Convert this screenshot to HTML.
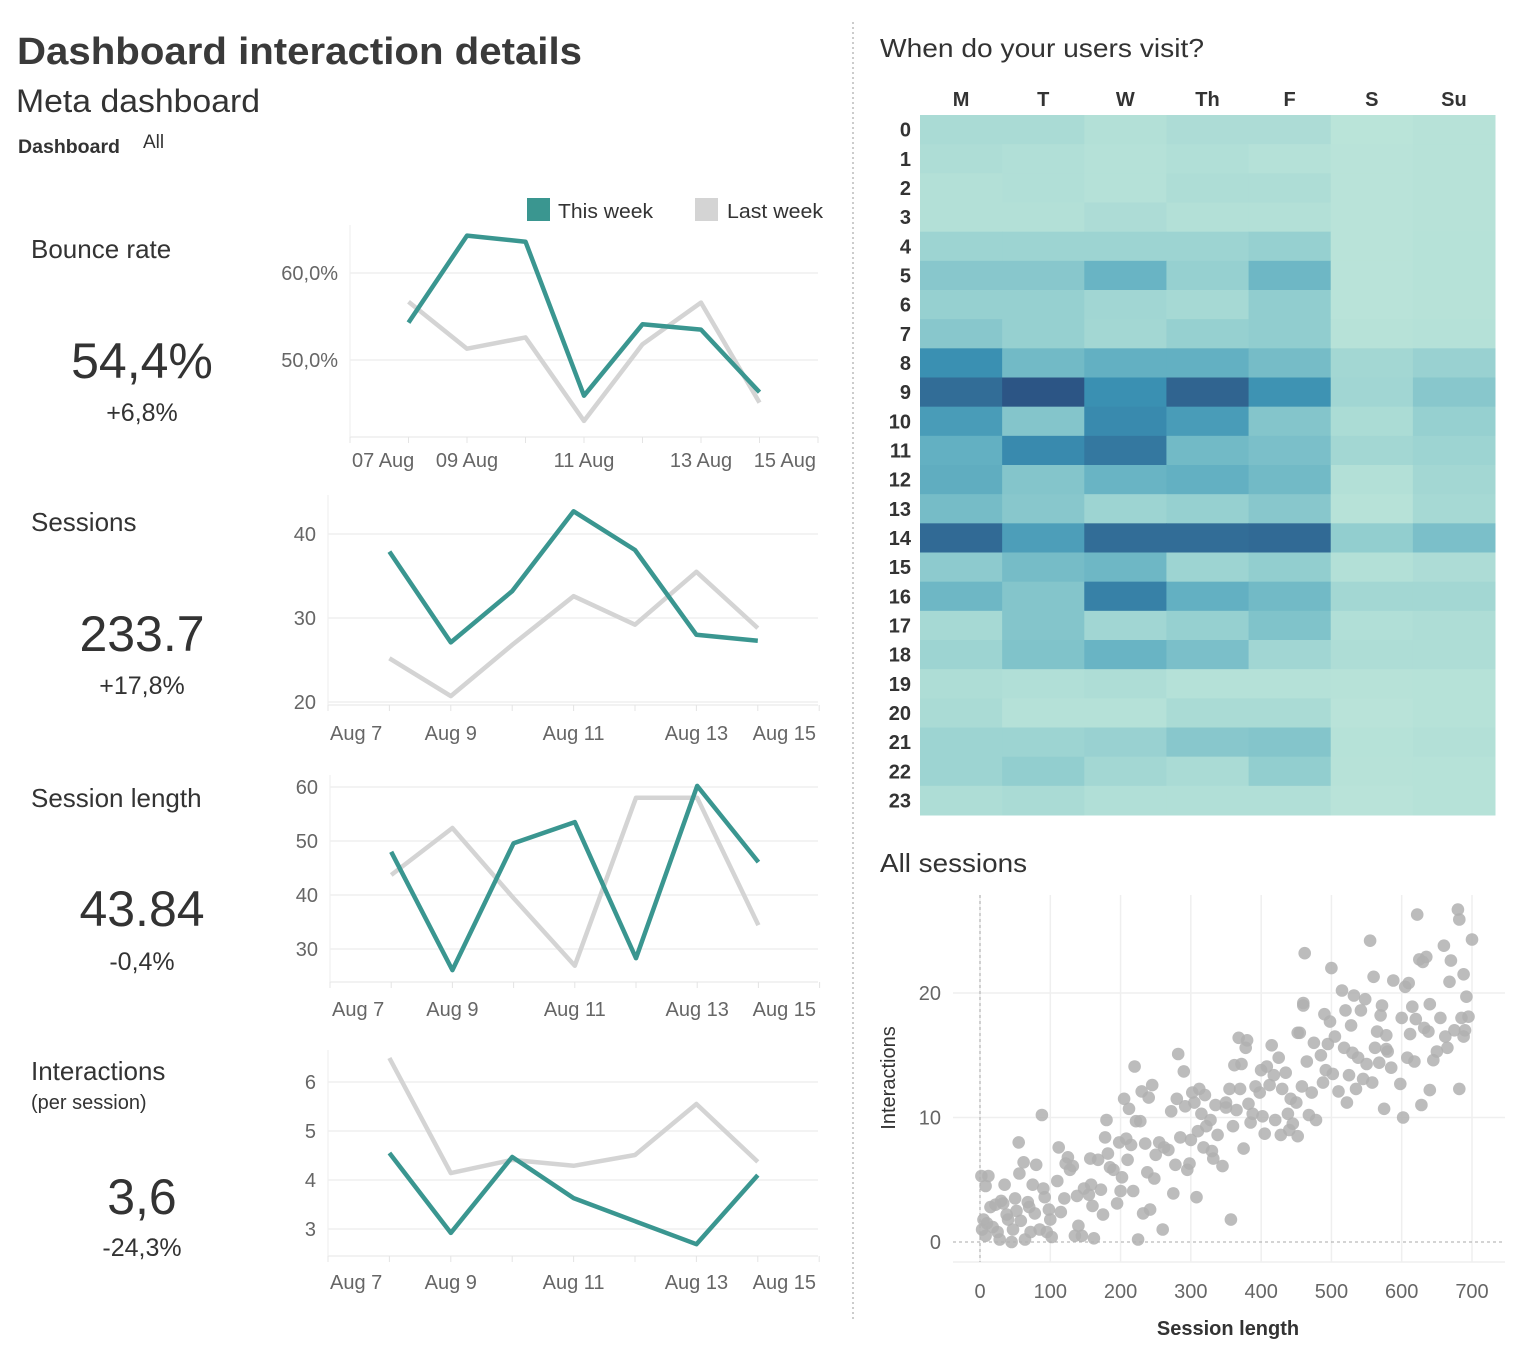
<!DOCTYPE html>
<html><head><meta charset="utf-8">
<style>
html,body{margin:0;padding:0;background:#fff;}
svg{display:block;font-family:"Liberation Sans",sans-serif;}
</style></head>
<body>
<svg id="root" width="1519" height="1350" viewBox="0 0 1519 1350" xmlns="http://www.w3.org/2000/svg">
<rect width="1519" height="1350" fill="#fff"/>
<text x="17" y="64" font-size="38" font-weight="bold" fill="#3a3a3a" textLength="565" lengthAdjust="spacingAndGlyphs">Dashboard interaction details</text>
<text x="16" y="112" font-size="32" fill="#333" textLength="244" lengthAdjust="spacingAndGlyphs">Meta dashboard</text>
<text x="18" y="153" font-size="19" font-weight="bold" fill="#333" textLength="102" lengthAdjust="spacingAndGlyphs">Dashboard</text>
<text x="143" y="148" font-size="19" fill="#333">All</text>
<line x1="853" y1="22" x2="853" y2="1320" stroke="#bbb" stroke-width="1.5" stroke-dasharray="2,3"/>

<g>
<rect x="527" y="198" width="23" height="23" fill="#3a9690"/>
<text x="558" y="218" font-size="20" fill="#333" textLength="95" lengthAdjust="spacingAndGlyphs">This week</text>
<rect x="695" y="198" width="23" height="23" fill="#d4d4d4"/>
<text x="727" y="218" font-size="20" fill="#333" textLength="96" lengthAdjust="spacingAndGlyphs">Last week</text>
</g>

<g id="kpis"></g>
<g id="lines"></g>

<text x="880" y="57" font-size="26" fill="#333" textLength="324" lengthAdjust="spacingAndGlyphs">When do your users visit?</text>
<g id="heat"></g>

<text x="880" y="872" font-size="26" fill="#333" textLength="147" lengthAdjust="spacingAndGlyphs">All sessions</text>
<g id="scatter"></g>
</svg>
<script>
const NS="http://www.w3.org/2000/svg";
function mk(tag,attrs,parent,txt){const e=document.createElementNS(NS,tag);for(const k in attrs)e.setAttribute(k,attrs[k]);if(txt!==undefined)e.textContent=txt;parent.appendChild(e);return e;}

// ---------- KPI data ----------
const kpiLabels=["Bounce rate","Sessions","Session length","Interactions"];
const kpiValues=["54,4%","233.7","43.84","3,6"];
const kpiDeltas=["+6,8%","+17,8%","-0,4%","-24,3%"];

// ---------- line chart data (Aug 8..14) ----------
const lineDays=[8,9,10,11,12,13,14];
const bounceThis=[54.3,64.3,63.6,45.9,54.1,53.5,46.3];
const bounceLast=[56.7,51.3,52.6,43.0,51.8,56.6,45.1];
const sessionsThis=[37.9,27.1,33.2,42.7,38.1,28.0,27.3];
const sessionsLast=[25.2,20.7,26.8,32.6,29.2,35.5,28.8];
const lengthThis=[48.0,26.1,49.6,53.5,28.3,60.2,46.1];
const lengthLast=[43.7,52.4,39.4,26.9,58.0,58.0,34.4];
const interThis=[4.55,2.92,4.47,3.63,3.16,2.69,4.1];
const interLast=[6.49,4.14,4.41,4.29,4.51,5.55,4.37];
const bounceTicks=[50,60];
const bounceTickLabels=["50,0%","60,0%"];
const sessionsTicks=[20,30,40];
const lengthTicks=[30,40,50,60];
const interTicks=[3,4,5,6];
const dateLabelsA=["07 Aug","09 Aug","11 Aug","13 Aug","15 Aug"];
const dateLabelsB=["Aug 7","Aug 9","Aug 11","Aug 13","Aug 15"];
const dateLabelDays=[7,9,11,13,15];

// ---------- heatmap data ----------
const heatDays=["M","T","W","Th","F","S","Su"];
const heatHours=[...Array(24).keys()];
const heatValues=[
[.15,.15,.08,.13,.13,.03,.05],
[.12,.10,.07,.10,.07,.04,.05],
[.08,.10,.07,.12,.12,.04,.05],
[.08,.08,.13,.08,.08,.04,.05],
[.25,.25,.25,.25,.30,.04,.06],
[.38,.38,.55,.30,.52,.04,.06],
[.30,.30,.22,.18,.33,.04,.05],
[.38,.30,.20,.30,.33,.05,.07],
[.80,.50,.58,.58,.48,.20,.28],
[.92,1.0,.80,.95,.78,.22,.38],
[.72,.40,.82,.72,.40,.14,.30],
[.58,.82,.88,.50,.45,.20,.25],
[.60,.40,.55,.58,.50,.08,.20],
[.48,.38,.25,.30,.38,.05,.18],
[.93,.70,.92,.92,.93,.32,.45],
[.35,.48,.52,.25,.32,.08,.13],
[.52,.40,.85,.58,.50,.20,.20],
[.18,.40,.22,.30,.42,.10,.12],
[.25,.42,.55,.45,.22,.12,.12],
[.12,.10,.12,.07,.07,.05,.06],
[.15,.07,.07,.15,.15,.04,.06],
[.25,.25,.28,.38,.40,.06,.08],
[.25,.32,.20,.15,.32,.05,.06],
[.12,.15,.10,.10,.10,.04,.06]];

// ---------- scatter data ----------
const scatterTicksX=[0,100,200,300,400,500,600,700];
const scatterTicksY=[0,10,20];
const scatterPoints=[[2,5.3],[12,5.3],[8,4.5],[5,1.8],[3,1],[8,0.5],[10,1.5],[15,2.8],[18,1.2],[22,3],[25,0.8],[28,0.2],[30,3.3],[33,3.1],[35,4.6],[38,2.2],[40,1.8],[45,0],[47,1],[50,3.5],[52,2.5],[55,8],[56,5.5],[58,1.7],[62,6.4],[64,0.2],[68,3.2],[70,2.8],[72,0.8],[75,4.6],[78,2.3],[80,6.2],[85,1],[88,10.2],[90,4.3],[92,3.6],[95,0.8],[98,2.6],[100,1.8],[102,0.4],[110,4.9],[112,7.6],[115,2.4],[120,3.5],[122,6.3],[125,6.8],[128,5.8],[132,6.1],[135,0.5],[138,3.7],[140,1.3],[145,0.5],[148,4.3],[155,3.8],[157,6.7],[158,4.6],[160,2.9],[162,0.3],[168,6.6],[172,4.2],[175,2.2],[178,8.4],[180,9.8],[182,7.1],[185,6],[190,5.8],[195,3.1],[198,8],[200,4.1],[202,5.2],[205,11.5],[208,8.3],[210,6.6],[212,10.7],[215,7.8],[218,4.1],[220,14.1],[222,9.7],[225,0.2],[228,9.7],[230,12.1],[232,2.3],[235,7.9],[238,5.6],[240,11.6],[242,2.6],[245,12.6],[248,5.1],[250,7],[255,8],[260,1],[262,7.6],[268,7.4],[272,10.5],[275,3.9],[278,6.2],[280,11.5],[282,15.1],[285,8.4],[290,13.7],[292,10.9],[295,5.8],[298,6.3],[300,8.2],[302,12],[305,11.2],[308,3.6],[310,8.9],[312,12.3],[315,10.3],[318,7.6],[320,11.8],[322,9.3],[328,9.8],[332,6.7],[335,11],[338,8.6],[345,6.1],[350,11.2],[355,12.3],[357,1.8],[360,9.3],[362,14.2],[365,10.6],[368,16.4],[370,12.3],[372,14.3],[375,7.5],[378,15.6],[380,16.2],[382,11.1],[385,9.6],[388,10.3],[392,12.5],[398,12],[400,13.8],[402,10.1],[405,8.7],[408,14.1],[412,12.6],[415,15.8],[418,13.4],[420,9.8],[425,14.8],[428,8.6],[430,12.3],[435,13.6],[438,10.3],[440,9],[442,11.5],[445,9.5],[450,11.2],[452,8.5],[455,16.8],[458,12.5],[460,19.2],[462,23.2],[465,14.5],[468,10.2],[472,12],[475,16],[478,9.8],[485,15],[488,12.8],[490,18.3],[492,13.8],[495,15.9],[498,17.7],[500,22],[502,13.5],[505,16.5],[510,12.1],[515,20.2],[518,15.6],[520,18.6],[522,11.2],[525,13.4],[528,17.4],[530,15.2],[532,19.8],[535,12.3],[538,14.8],[542,18.6],[545,13.1],[548,19.5],[550,14.3],[555,24.2],[558,12.8],[560,21.3],[562,15.6],[565,16.9],[568,14.4],[570,18.2],[572,19],[575,10.7],[578,16.6],[580,15.3],[585,14],[588,21],[598,12.7],[600,18],[602,10],[605,20.5],[608,14.8],[610,20.8],[612,16.7],[615,18.9],[618,14.5],[620,17.9],[622,26.3],[625,22.7],[628,11],[630,22.5],[632,17.2],[635,22.9],[638,16.9],[640,12.2],[645,14.6],[650,15.3],[655,18],[660,23.8],[662,16.5],[665,15.6],[668,20.9],[670,22.6],[675,17],[680,26.7],[682,12.3],[685,18],[688,21.5],[690,17],[692,19.7],[695,18.1],[700,24.3],[688,16.5],[682,25.9],[640,19.1],[578,15.5],[452,16.8],[330,7.3],[460,19],[350,10.8]];

// ---------- KPIs ----------
const kpiG=document.getElementById('kpis');
const kpiTop=[248,521,797,1070];
const kpiValueY=[378,651,926,1214];
const kpiDeltaY=[421,694,970,1256];
kpiLabels.forEach((l,i)=>{
  const t=mk('text',{x:31,y:kpiTop[i]+10,'font-size':26,fill:'#333'},kpiG,l);
  
  
  const v=mk('text',{x:142,y:kpiValueY[i],'font-size':50,fill:'#333','text-anchor':'middle'},kpiG,kpiValues[i]);
  
  
  const d=mk('text',{x:142,y:kpiDeltaY[i],'font-size':25,fill:'#333','text-anchor':'middle'},kpiG,kpiDeltas[i]);
  
  
});
const ps=mk('text',{x:31,y:1109,'font-size':20,fill:'#333'},kpiG,"(per session)");



// ---------- line charts ----------
const linesG=document.getElementById('lines');
function lineChart(cfg){
  const g=mk('g',{},linesG);
  
  
  const xs=d=>cfg.x0+(d-7)*cfg.dx;
  const ys=v=>cfg.yRef-(v-cfg.vRef)*cfg.py;
  mk('line',{x1:cfg.x0,y1:cfg.top,x2:cfg.x0,y2:cfg.bottom,stroke:'#eee','stroke-width':1},g);
  mk('line',{x1:cfg.x0,y1:cfg.bottom,x2:818,y2:cfg.bottom,stroke:'#eee','stroke-width':1.5},g);
  for(let d=7;d<=15;d++){mk('line',{x1:xs(d),y1:cfg.bottom,x2:xs(d),y2:cfg.bottom+6,stroke:'#e4e4e4'},g);}
  cfg.ticks.forEach((t,i)=>{
    const y=ys(t);
    const gl=mk('line',{x1:cfg.x0,y1:y,x2:818,y2:y,stroke:'#efefef','stroke-width':1.5},g);
    
    
    const tl=mk('text',{x:cfg.x0-12,y:y+7,'font-size':20,fill:'#666','text-anchor':'end'},g,cfg.tickLabels?cfg.tickLabels[i]:String(t));
    
    
  });
  dateLabelDays.forEach((d,i)=>{
    let x=xs(d),anchor='middle';
    if(i===0){x=cfg.x0+2;anchor='start';}
    if(i===dateLabelDays.length-1){x=816;anchor='end';}
    const tl=mk('text',{x:x,y:cfg.bottom+cfg.lblOff,'font-size':20,fill:'#666','text-anchor':anchor},g,cfg.labels[i]);
    
    
  });
  const pts=a=>a.map((v,i)=>xs(lineDays[i]).toFixed(1)+','+ys(v).toFixed(1)).join(' ');
  const l1=mk('polyline',{points:pts(cfg.last),fill:'none',stroke:'#d4d4d4','stroke-width':4.5,'stroke-linejoin':'round'},g);
  
  
  const l2=mk('polyline',{points:pts(cfg.this),fill:'none',stroke:'#3a9690','stroke-width':4.5,'stroke-linejoin':'round'},g);
  
  
}
lineChart({name:'bounce-rate-chart',x0:350,dx:58.5,top:225,bottom:437,yRef:273,vRef:60,py:8.7,ticks:bounceTicks,tickLabels:bounceTickLabels,labels:dateLabelsA,this:bounceThis,last:bounceLast,lblOff:30});
lineChart({name:'sessions-chart',x0:328,dx:61.4,top:495,bottom:705,yRef:618,vRef:30,py:8.4,ticks:sessionsTicks,labels:dateLabelsB,this:sessionsThis,last:sessionsLast,lblOff:35});
lineChart({name:'session-length-chart',x0:330,dx:61.2,top:775,bottom:982,yRef:949,vRef:30,py:5.4,ticks:lengthTicks,labels:dateLabelsB,this:lengthThis,last:lengthLast,lblOff:34});
lineChart({name:'interactions-chart',x0:328,dx:61.4,top:1050,bottom:1256,yRef:1229,vRef:3,py:49,ticks:interTicks,labels:dateLabelsB,this:interThis,last:interLast,lblOff:33});

// ---------- heatmap ----------
const heatG=document.getElementById('heat');


const stops=[[0,[190,230,218]],[0.3,[150,208,208]],[0.55,[105,180,196]],[0.8,[58,144,178]],[1,[44,85,133]]];
function heatColor(v){
  for(let i=1;i<stops.length;i++){if(v<=stops[i][0]){const a=stops[i-1],b=stops[i];const t=(v-a[0])/(b[0]-a[0]);const c=a[1].map((x,k)=>Math.round(x+(b[1][k]-x)*t));return 'rgb('+c.join(',')+')';}}
  return 'rgb(44,85,133)';
}
const hx0=920,hx1=1495,hy0=115,hy1=815;
const cw=(hx1-hx0)/heatDays.length,ch=(hy1-hy0)/heatHours.length;
heatDays.forEach((d,j)=>{
  const t=mk('text',{x:hx0+cw*(j+0.5),y:106,'font-size':20,'font-weight':'bold',fill:'#333','text-anchor':'middle'},heatG,d);
  
  
});
heatHours.forEach((h,i)=>{
  const t=mk('text',{x:911,y:hy0+ch*(i+0.5)+7,'font-size':20,'font-weight':'bold',fill:'#333','text-anchor':'end'},heatG,String(h));
  
  
  heatDays.forEach((d,j)=>{
    const r=mk('rect',{x:hx0+cw*j,y:hy0+ch*i,width:cw+0.5,height:ch+0.5,fill:heatColor(heatValues[i][j])},heatG);
    
    
  });
});

// ---------- scatter ----------
const sg=document.getElementById('scatter');


const sx=v=>980+v*(492/700);
const sy=v=>1242-v*12.45;
const spL=953,spR=1505,spT=895,spB=1262;
scatterTicksX.forEach(t=>{
  const gl=mk('line',{x1:sx(t),y1:spT,x2:sx(t),y2:spB,stroke:'#efefef','stroke-width':1.5},sg);
  
  
  const tl=mk('text',{x:sx(t),y:1298,'font-size':20,fill:'#666','text-anchor':'middle'},sg,String(t));
  
  
});
scatterTicksY.forEach(t=>{
  if(t!==0){const gl=mk('line',{x1:spL,y1:sy(t),x2:spR,y2:sy(t),stroke:'#efefef','stroke-width':1.5},sg);
  
  }
  const tl=mk('text',{x:941,y:sy(t)+7,'font-size':20,fill:'#666','text-anchor':'end'},sg,String(t));
  
  
});
mk('line',{x1:spL,y1:spB,x2:spR,y2:spB,stroke:'#efefef','stroke-width':1.5},sg);
mk('line',{x1:sx(0),y1:spT,x2:sx(0),y2:spB,stroke:'#aaa','stroke-width':1,'stroke-dasharray':'3,3'},sg);
mk('line',{x1:spL,y1:sy(0),x2:spR,y2:sy(0),stroke:'#aaa','stroke-width':1,'stroke-dasharray':'3,3'},sg);
scatterPoints.forEach(p=>{
  const c=mk('circle',{cx:sx(p[0]).toFixed(1),cy:sy(p[1]).toFixed(1),r:6.3,fill:'#b0b0b0','fill-opacity':0.85},sg);
  
  
});
const xt=mk('text',{x:1228,y:1335,'font-size':20,'font-weight':'bold',fill:'#333','text-anchor':'middle'},sg,"Session length");


const yt=mk('text',{x:0,y:0,'font-size':20,fill:'#333','text-anchor':'middle',transform:'translate(895,1078) rotate(-90)'},sg,"Interactions");


</script>
</body></html>
